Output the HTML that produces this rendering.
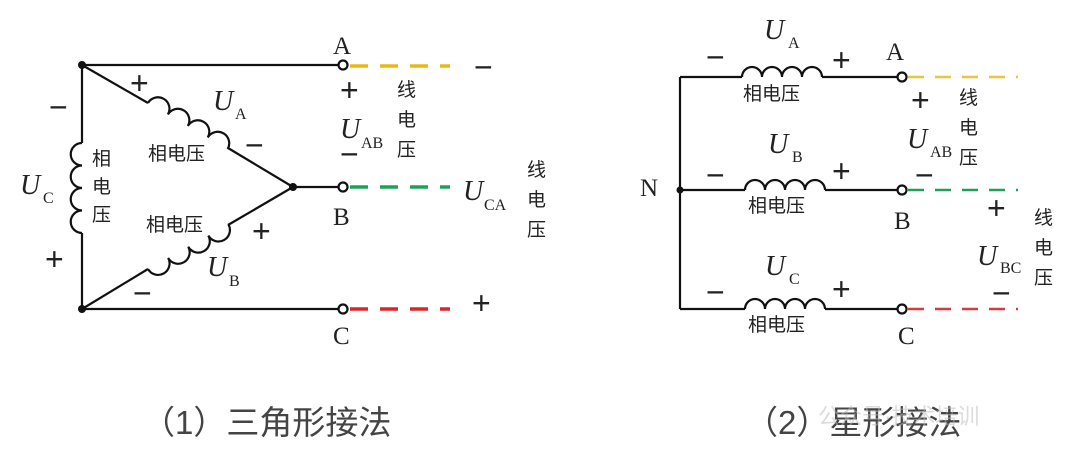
<!DOCTYPE html>
<html><head><meta charset="utf-8"><style>
html,body{margin:0;padding:0;background:#fff;}
svg{display:block}
text{font-family:"Liberation Serif","Noto Serif CJK SC",serif;fill:#222}
.cn{font-family:"Liberation Sans","Noto Sans CJK SC",sans-serif;font-size:19px}
.cap{font-family:"Liberation Sans","Noto Sans CJK SC",sans-serif;font-size:33px;fill:#444}
.L{font-size:25px}
.U{font-size:28px;font-style:italic}
.s{font-size:16px}
.pm{font-family:"Liberation Sans",sans-serif;font-size:32px}
</style></head><body>
<svg width="1080" height="461" viewBox="0 0 1080 461">
<g fill="none" stroke="#111" stroke-width="2.2">
<line x1="82" y1="65" x2="338" y2="65"/>
<line x1="82" y1="309" x2="338" y2="309"/>
<line x1="293" y1="187" x2="338" y2="187"/>
<line x1="82" y1="65" x2="82" y2="143"/>
<line x1="82" y1="233" x2="82" y2="309"/>
<line x1="82" y1="65" x2="148" y2="103"/>
<line x1="228" y1="148" x2="293" y2="187"/>
<line x1="82" y1="309" x2="148" y2="269"/>
<line x1="228" y1="225" x2="293" y2="187"/>
<g transform="translate(148,103) rotate(30)"><path d="M0,0 a11.5,11.5 0 0 1 23,0 a11.5,11.5 0 0 1 23,0 a11.5,11.5 0 0 1 23,0 a11.5,11.5 0 0 1 23,0"/></g>
<g transform="translate(148,269) rotate(-29)"><path d="M0,0 a11.5,11.5 0 0 0 23,0 a11.5,11.5 0 0 0 23,0 a11.5,11.5 0 0 0 23,0 a11.5,11.5 0 0 0 23,0"/></g>
<g transform="translate(82,143) rotate(90)"><path d="M0,0 a11.25,11.25 0 0 0 22.5,0 a11.25,11.25 0 0 0 22.5,0 a11.25,11.25 0 0 0 22.5,0 a11.25,11.25 0 0 0 22.5,0"/></g>
<circle cx="343" cy="65" r="4.5" fill="#fff"/>
<circle cx="343" cy="187" r="4.5" fill="#fff"/>
<circle cx="343" cy="309" r="4.5" fill="#fff"/>
<line x1="680" y1="77" x2="680" y2="309"/>
<line x1="680" y1="77" x2="742" y2="77"/>
<line x1="822" y1="77" x2="897" y2="77"/>
<line x1="680" y1="190" x2="745" y2="190"/>
<line x1="825" y1="190" x2="897" y2="190"/>
<line x1="680" y1="309" x2="745" y2="309"/>
<line x1="825" y1="309" x2="897" y2="309"/>
<path d="M742,77 a10,10 0 0 1 20,0 a10,10 0 0 1 20,0 a10,10 0 0 1 20,0 a10,10 0 0 1 20,0"/>
<path d="M745,190 a10,10 0 0 1 20,0 a10,10 0 0 1 20,0 a10,10 0 0 1 20,0 a10,10 0 0 1 20,0"/>
<path d="M745,309 a10,10 0 0 1 20,0 a10,10 0 0 1 20,0 a10,10 0 0 1 20,0 a10,10 0 0 1 20,0"/>
<circle cx="902" cy="77" r="4.5" fill="#fff"/>
<circle cx="902" cy="190" r="4.5" fill="#fff"/>
<circle cx="902" cy="309" r="4.5" fill="#fff"/>
</g>
<circle cx="82" cy="65" r="4" fill="#111"/>
<circle cx="82" cy="309" r="4" fill="#111"/>
<circle cx="293" cy="187" r="4" fill="#111"/>
<circle cx="680" cy="190" r="3.5" fill="#111"/>
<g stroke-width="3.5" fill="none">
<line x1="350" y1="66" x2="450" y2="66" stroke="#e8b817" stroke-dasharray="18,12"/>
<line x1="350" y1="187" x2="450" y2="187" stroke="#1fa05a" stroke-dasharray="18,12"/>
<line x1="350" y1="309" x2="450" y2="309" stroke="#d8262a" stroke-dasharray="18,12"/>
<line x1="908" y1="77" x2="1018" y2="77" stroke="#e8c440" stroke-width="2.5" stroke-dasharray="16,11"/>
<line x1="908" y1="190" x2="1018" y2="190" stroke="#1fa05a" stroke-width="2.5" stroke-dasharray="16,11"/>
<line x1="908" y1="309" x2="1018" y2="309" stroke="#d83a3e" stroke-width="2.5" stroke-dasharray="16,11"/>
</g>
<text class="L" x="333" y="54">A</text>
<text class="L" x="333" y="225">B</text>
<text class="L" x="333" y="344">C</text>
<text class="pm" x="474" y="78">−</text>
<text class="pm" x="472" y="314">+</text>
<text class="pm" x="340" y="101">+</text>
<text class="pm" x="340" y="165">−</text>
<text class="U" x="340" y="138">U</text><text class="s" x="361" y="148">AB</text>
<text class="cn" x="397" y="96">线</text><text class="cn" x="397" y="126">电</text><text class="cn" x="397" y="156">压</text>
<text class="U" x="463" y="200">U</text><text class="s" x="484" y="210">CA</text>
<text class="cn" x="527" y="176">线</text><text class="cn" x="527" y="206">电</text><text class="cn" x="527" y="236">压</text>
<text class="pm" x="130" y="94">+</text>
<text class="U" x="213" y="110">U</text><text class="s" x="235" y="119">A</text>
<text class="pm" x="245" y="156">−</text>
<text class="cn" x="148" y="160">相电压</text>
<text class="cn" x="146" y="231">相电压</text>
<text class="pm" x="252" y="242">+</text>
<text class="U" x="207" y="276">U</text><text class="s" x="229" y="286">B</text>
<text class="pm" x="133" y="304">−</text>
<text class="pm" x="49" y="118">−</text>
<text class="pm" x="45" y="270">+</text>
<text class="U" x="20" y="194">U</text><text class="s" x="43" y="203">C</text>
<text class="cn" x="92" y="165">相</text><text class="cn" x="92" y="193">电</text><text class="cn" x="92" y="221">压</text>
<text class="L" x="640" y="196">N</text>
<text class="L" x="886" y="60">A</text>
<text class="L" x="894" y="229">B</text>
<text class="L" x="898" y="344">C</text>
<text class="U" x="764" y="39">U</text><text class="s" x="788" y="48">A</text>
<text class="U" x="768" y="153">U</text><text class="s" x="792" y="162">B</text>
<text class="U" x="765" y="275">U</text><text class="s" x="789" y="284">C</text>
<text class="pm" x="706" y="68">−</text><text class="pm" x="832" y="71">+</text>
<text class="pm" x="706" y="186">−</text><text class="pm" x="832" y="182">+</text>
<text class="pm" x="706" y="303">−</text><text class="pm" x="832" y="300">+</text>
<text class="cn" x="743" y="100">相电压</text>
<text class="cn" x="748" y="212">相电压</text>
<text class="cn" x="748" y="331">相电压</text>
<text class="pm" x="911" y="111">+</text>
<text class="U" x="907" y="148">U</text><text class="s" x="930" y="157">AB</text>
<text class="pm" x="915" y="186">−</text>
<text class="cn" x="959" y="104">线</text><text class="cn" x="959" y="134">电</text><text class="cn" x="959" y="164">压</text>
<text class="pm" x="987" y="219">+</text>
<text class="U" x="977" y="265">U</text><text class="s" x="1000" y="273">BC</text>
<text class="pm" x="992" y="304">−</text>
<text class="cn" x="1034" y="224">线</text><text class="cn" x="1034" y="254">电</text><text class="cn" x="1034" y="284">压</text>
<text class="cap" x="142" y="434">（1）三角形接法</text>
<text class="cap" x="745" y="434">（2）星形接法</text>
<text x="818" y="424" style="font-family:'Liberation Sans','Noto Sans CJK SC',sans-serif;font-size:22px;fill:#bbb;opacity:.5">公众号·技术培训</text>
</svg>
</body></html>
